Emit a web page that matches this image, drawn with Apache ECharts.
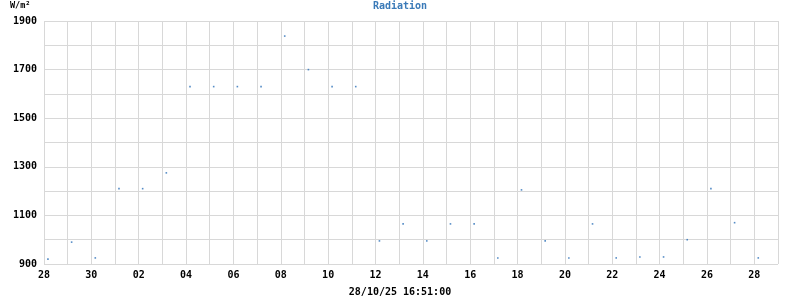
<!DOCTYPE html>
<html>
<head>
<meta charset="utf-8">
<script src="https://cdn.jsdelivr.net/npm/echarts@6/dist/echarts.min.js"></script>
<style>html,body{margin:0;padding:0;background:#fff}#c{width:800px;height:300px}</style>
</head>
<body>
<div id="c"></div>
<script>
// Day labels from 28 Sep to 29 Oct 2025
var dayLabels = ['28','29','30','01','02','03','04','05','06','07','08','09','10','11','12','13','14','15','16','17','18','19','20','21','22','23','24','25','26','27','28','29'];
// Daily readings (one per day, starting 28 Sep), W/m²
var radiation = [920,990,925,1210,1210,1275,1630,1630,1630,1630,1838,1700,1630,1630,995,1065,995,1065,1065,925,1205,995,925,1065,925,929,929,1000,1210,1070,925];
var readingHour = 4; // hour of day of each reading
var yTicks = {min:900, max:1900, step:100, labelStep:200};
var titleText = 'Radiation';
var unitText = 'W/m²';
var stampText = '28/10/25 16:51:00';

var points = radiation.map(function(v,i){ return [i + readingHour/24, v]; });
var font = '"DejaVu Sans Mono", monospace';

var chart = echarts.init(document.getElementById('c'), null, {renderer:'canvas'});
chart.setOption({
  animation:false,
  backgroundColor:'#fff',
  title:[
    {text:titleText, left:400, top:1, padding:0, textAlign:'center',
     textStyle:{fontFamily:font, fontSize:10, fontWeight:'bold', color:'#3a7ab8'}},
    {text:unitText, left:10, top:1, padding:0,
     textStyle:{fontFamily:font, fontSize:8.5, fontWeight:'bold', color:'#000'}},
    {text:stampText, left:400, top:287, padding:0, textAlign:'center',
     textStyle:{fontFamily:font, fontSize:10, fontWeight:'bold', color:'#000'}}
  ],
  grid:{left:44, right:22, top:21, bottom:36, containLabel:false},
  xAxis:{
    type:'value', min:0, max:dayLabels.length-1, interval:1,
    axisLine:{show:false}, axisTick:{show:false},
    splitLine:{show:true, lineStyle:{color:'#d8d8d8', width:1}},
    axisLabel:{
      fontFamily:font, fontSize:10, fontWeight:'bold', color:'#000', margin:6,
      showMaxLabel:false,
      formatter:function(v){ var i=Math.round(v); return (i%2===0 && i<dayLabels.length-1) ? dayLabels[i] : ''; }
    }
  },
  yAxis:{
    type:'value', min:yTicks.min, max:yTicks.max, interval:yTicks.step,
    axisLine:{show:false}, axisTick:{show:false},
    splitLine:{show:true, lineStyle:{color:'#d8d8d8', width:1}},
    axisLabel:{
      fontFamily:font, fontSize:10, fontWeight:'bold', color:'#000', margin:7,
      formatter:function(v){ return ((v-yTicks.min)%yTicks.labelStep===0) ? String(v) : ''; }
    }
  },
  series:[{
    type:'scatter', data:points, symbol:'rect', symbolSize:1.6,
    itemStyle:{color:'#2a6fb8'}, silent:true
  }]
});
</script>
</body>
</html>
